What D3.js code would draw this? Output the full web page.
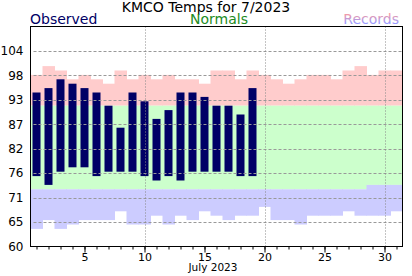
<!DOCTYPE html>
<html>
<head>
<meta charset="utf-8">
<script src="https://cdn.jsdelivr.net/npm/d3@7"></script>
<style>
  body { margin: 0; background: #fff; }
  svg { display: block; font-family: 'DejaVu Sans', sans-serif; }
</style>
</head>
<body>
<svg id="chart" width="412" height="276"></svg>
<script>
// Days of the month
const days = [1, 2, 3, 4, 5, 6, 7, 8, 9, 10, 11, 12, 13, 14, 15, 16, 17, 18, 19, 20, 21, 22, 23, 24, 25, 26, 27, 28, 29, 30, 31]

// Record highs / lows per day (F)
const recordHighs = [99, 101, 100, 98, 99, 98, 97, 100, 98, 99, 98, 99, 98, 98, 97, 100, 100, 98, 100, 99, 98, 97, 98, 99, 99, 98, 100, 101, 99, 100, 100]
const recordLows = [64, 66, 64, 65, 66, 66, 66, 68, 65, 65, 67, 65, 67, 66, 68, 67, 66, 67, 67, 69, 66, 66, 65, 67, 67, 67, 68, 67, 67, 67, 68]

// Normal highs / lows per day (F)
const normalHighs = [92, 92, 92, 92, 92, 92, 92, 92, 92, 92, 92, 92, 92, 92, 92, 92, 92, 92, 92, 92, 92, 92, 92, 92, 92, 92, 92, 92, 92, 92, 92]
const normalLows = [73, 73, 73, 73, 73, 73, 73, 73, 73, 73, 73, 73, 73, 73, 73, 73, 73, 73, 73, 73, 73, 73, 73, 73, 73, 73, 73, 73, 74, 74, 74]

// Observed highs / lows (days 1 - 19)
const obsDays = [1, 2, 3, 4, 5, 6, 7, 8, 9, 10, 11, 12, 13, 14, 15, 16, 17, 18, 19]
const obsHighs = [95, 96, 98, 97, 96, 95, 92, 87, 95, 93, 89, 91, 95, 95, 94, 92, 92, 90, 96]
const obsLows = [76, 74, 77, 78, 78, 76, 77, 77, 77, 76, 75, 76, 75, 77, 77, 77, 77, 76, 76]

// Axis ticks
const yTicks = [60, 65.56, 71.11, 76.67, 82.22, 87.78, 93.33, 98.89, 104.44]
const yTickLabels = ['60', '65', '71', '76', '82', '87', '93', '98', '104']
const xMajorTicks = [5, 10, 15, 20, 25, 30]
const xGridDays = [10, 20, 30]

const svg = d3.select('#chart')
const plot = { left: 30.5, right: 402.5, top: 26.5, bottom: 246.5 }

const x = d3.scaleLinear().domain([0.5, 31.5]).range([plot.left, plot.right])
const y = d3.scaleLinear().domain([60, 110]).range([plot.bottom, plot.top])
const dayW = x(2) - x(1)

const g = svg.append('g')

// Record band (pink): record high down to normal high
g.append('g').selectAll('rect')
  .data(days)
  .enter().append('rect')
  .attr('x', d => x(d - 0.5))
  .attr('width', dayW + 0.5)
  .attr('y', (d, i) => y(recordHighs[i]))
  .attr('height', (d, i) => y(normalHighs[i]) - y(recordHighs[i]))
  .attr('fill', '#ffcccc')

// Normal band (green)
g.append('g').selectAll('rect')
  .data(days)
  .enter().append('rect')
  .attr('x', d => x(d - 0.5))
  .attr('width', dayW + 0.5)
  .attr('y', (d, i) => y(normalHighs[i]))
  .attr('height', (d, i) => y(normalLows[i]) - y(normalHighs[i]))
  .attr('fill', '#ccffcc')

// Record low band (blue)
g.append('g').selectAll('rect')
  .data(days)
  .enter().append('rect')
  .attr('x', d => x(d - 0.5))
  .attr('width', dayW + 0.5)
  .attr('y', (d, i) => y(normalLows[i]))
  .attr('height', (d, i) => y(recordLows[i]) - y(normalLows[i]))
  .attr('fill', '#ccccff')

// Observed bars
g.append('g').selectAll('rect')
  .data(obsDays)
  .enter().append('rect')
  .attr('x', d => x(d) - dayW / 3)
  .attr('width', dayW * 2 / 3)
  .attr('y', (d, i) => y(obsHighs[i]))
  .attr('height', (d, i) => y(obsLows[i]) - y(obsHighs[i]))
  .attr('fill', '#000066')

// Horizontal dashed grid
g.append('g').selectAll('line')
  .data(yTicks.slice(1))
  .enter().append('line')
  .attr('x1', plot.left + 3)
  .attr('x2', plot.right)
  .attr('y1', d => Math.round(y(d)) + 0.5)
  .attr('y2', d => Math.round(y(d)) + 0.5)
  .attr('stroke', '#999')
  .attr('stroke-dasharray', '3,2')

// Vertical dotted grid
g.append('g').selectAll('line')
  .data(xGridDays)
  .enter().append('line')
  .attr('x1', d => Math.round(x(d)) + 0.5)
  .attr('x2', d => Math.round(x(d)) + 0.5)
  .attr('y1', plot.top)
  .attr('y2', plot.bottom)
  .attr('stroke', '#888')
  .attr('stroke-dasharray', '1,2')

// X-axis: minor ticks every day, major ticks with labels
const xMinor = svg.append('g')
  .attr('transform', 'translate(0,' + plot.bottom + ')')
  .call(d3.axisBottom(x).tickValues(days).tickSize(3).tickFormat(''))
const xMajor = svg.append('g')
  .attr('transform', 'translate(0,' + plot.bottom + ')')
  .call(d3.axisBottom(x).tickValues(xMajorTicks).tickSize(6).tickPadding(1).tickFormat(d => d))
xMinor.select('.domain').remove()
xMajor.select('.domain').remove()
xMajor.selectAll('text').attr('font-size', 11).attr('font-family', 'DejaVu Sans').attr('fill', '#000')

svg.append('text')
  .attr('x', 213)
  .attr('y', 271)
  .attr('text-anchor', 'middle')
  .attr('font-size', 10.5)
  .text('July 2023')

// Y-axis labels
const yAxis = svg.append('g')
  .attr('transform', 'translate(' + plot.left + ',0)')
  .call(d3.axisLeft(y).tickValues(yTicks).tickSize(0).tickPadding(7).tickFormat((d, i) => yTickLabels[i]))
yAxis.select('.domain').remove()
yAxis.selectAll('text').attr('font-size', 12).attr('font-family', 'DejaVu Sans').attr('fill', '#000')

// Frame
svg.append('rect')
  .attr('x', plot.left)
  .attr('y', plot.top)
  .attr('width', plot.right - plot.left)
  .attr('height', plot.bottom - plot.top)
  .attr('fill', 'none')
  .attr('stroke', '#000')

// Title and legend
const defs = svg.append('defs')
const grad = defs.append('linearGradient')
  .attr('id', 'recGrad')
  .attr('gradientUnits', 'userSpaceOnUse')
  .attr('x1', 0).attr('y1', 13).attr('x2', 0).attr('y2', 23)
grad.append('stop').attr('offset', '0%').attr('stop-color', '#ff9999')
grad.append('stop').attr('offset', '100%').attr('stop-color', '#9999ff')

svg.append('text')
  .attr('x', 206)
  .attr('y', 12)
  .attr('text-anchor', 'middle')
  .attr('font-size', 14)
  .text('KMCO Temps for 7/2023')

svg.append('text')
  .attr('x', 30)
  .attr('y', 24)
  .attr('font-size', 14)
  .attr('fill', '#000066')
  .text('Observed')

svg.append('text')
  .attr('x', 219)
  .attr('y', 24)
  .attr('text-anchor', 'middle')
  .attr('font-size', 14)
  .attr('fill', '#228b22')
  .text('Normals')

svg.append('text')
  .attr('x', 399)
  .attr('y', 24)
  .attr('text-anchor', 'end')
  .attr('font-size', 14)
  .attr('fill', 'url(#recGrad)')
  .text('Records')
</script>
</body>
</html>
